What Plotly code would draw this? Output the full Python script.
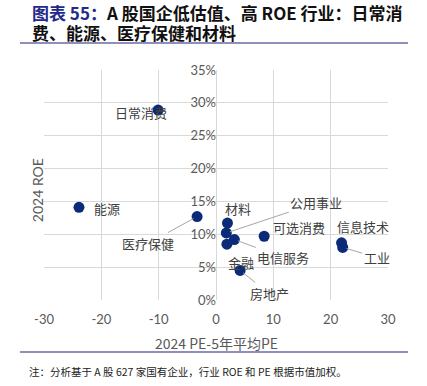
import plotly.graph_objects as go

industries = ["日常消费", "能源", "医疗保健", "材料", "公用事业", "可选消费",
              "信息技术", "电信服务", "金融", "工业", "房地产"]
pe_diff = [-10.1, -23.9, -3.3, 2.0, 1.8, 8.4, 21.9, 3.2, 1.9, 22.1, 4.2]
roe = [0.289, 0.141, 0.127, 0.117, 0.102, 0.097, 0.087, 0.092, 0.085, 0.080, 0.045]

# label offsets in pixels (style), and whether a leader line is drawn
label_dx = [-17, 28, -49, 11, 90, 35, 21, 49, 14, 34, 29]
label_dy = [2, 1, 27, -15, -30, -9, -16, 18, 18, 10, 23]
leader = [False, False, True, False, True, False, False, True, False, True, True]

x_ticks = [-30, -20, -10, 0, 10, 20, 30]
y_ticks = [0, 0.05, 0.10, 0.15, 0.20, 0.25, 0.30, 0.35]

fig = go.Figure()
fig.add_trace(go.Scatter(
    x=pe_diff, y=roe, mode="markers",
    marker=dict(color="#0b2a78", size=11),
    showlegend=False, hoverinfo="skip"))

for name, x, y, dx, dy, ld in zip(industries, pe_diff, roe, label_dx, label_dy, leader):
    fig.add_annotation(
        x=x, y=y, xref="x", yref="y", text=name,
        showarrow=ld, ax=dx, ay=dy, arrowhead=0, arrowwidth=1,
        arrowcolor="#a6a6a6", standoff=4,
        xshift=0 if ld else dx, yshift=0 if ld else -dy,
        font=dict(family="Noto Sans CJK SC", size=13, color="#404040"))

gray = "#595959"
fig.update_layout(
    width=427, height=386,
    margin=dict(l=44, r=39, t=70, b=86, autoexpand=False),
    paper_bgcolor="white", plot_bgcolor="white",
    font=dict(family="Noto Sans CJK SC", color=gray),
    xaxis=dict(range=[-30, 30], tickvals=x_ticks, ticktext=[str(v) for v in x_ticks],
               showgrid=True, gridcolor="#d9d9d9", gridwidth=1, automargin=False,
               zeroline=False, showline=False, ticks="", ticklabelstandoff=10,
               tickfont=dict(size=13, color=gray, family="Lato")),
    yaxis=dict(range=[0, 0.35], tickvals=y_ticks, tickformat=".0%",
               showgrid=True, gridcolor="#d9d9d9", gridwidth=1, automargin=False,
               zeroline=False, showline=False, ticks="",
               anchor="free", position=0.5,
               tickfont=dict(size=13, color=gray, family="Lato")),
)

# axis titles
fig.add_annotation(xref="paper", yref="paper", x=0.5, y=-0.187, text="2024 PE-5年平均PE",
                   showarrow=False, yanchor="middle", xanchor="center",
                   font=dict(size=14, color=gray, family="Noto Sans CJK SC"))
fig.add_annotation(xref="paper", yref="paper", x=-0.02, y=0.478, text="2024 ROE",
                   showarrow=False, textangle=-90, xanchor="center", yanchor="middle",
                   font=dict(size=14, color=gray, family="Lato"))

# Title (two lines)
fig.add_annotation(xref="paper", yref="paper", x=-0.041, y=1.252, xanchor="left", yanchor="middle",
                   showarrow=False,
                   text="<b><span style='color:#1f2a8a'>图表 55：</span>A 股国企低估值、高 ROE 行业：日常消</b>",
                   font=dict(size=17, color="#111111", family="Noto Sans CJK SC"))
fig.add_annotation(xref="paper", yref="paper", x=-0.041, y=1.161, xanchor="left", yanchor="middle",
                   showarrow=False,
                   text="<b>费、能源、医疗保健和材料</b>",
                   font=dict(size=17, color="#111111", family="Noto Sans CJK SC"))
# separator lines
fig.add_shape(type="line", xref="paper", yref="paper", x0=-0.07, x1=1.058, y0=1.117, y1=1.117,
              line=dict(color="#6a6aa8", width=1.5))
fig.add_shape(type="line", xref="paper", yref="paper", x0=-0.07, x1=1.058, y0=-0.226, y1=-0.226,
              line=dict(color="#6a6aa8", width=1.5))
# footnote
fig.add_annotation(xref="paper", yref="paper", x=-0.049, y=-0.313, xanchor="left", yanchor="middle",
                   showarrow=False,
                   text="注：分析基于 A 股 627 家国有企业，行业 ROE 和 PE 根据市值加权。",
                   font=dict(size=10.5, color="#222222", family="Noto Sans CJK SC"))

fig.write_html("out.html", config={"displayModeBar": False},
               post_script="document.body.style.margin='0';document.body.style.overflow='hidden';")
